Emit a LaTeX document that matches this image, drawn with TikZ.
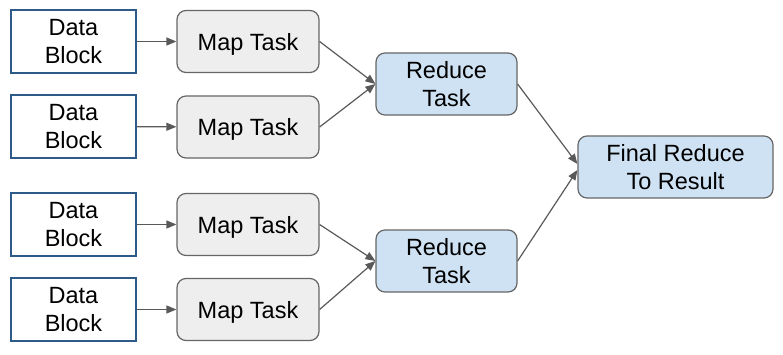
\documentclass[tikz,border=0pt]{standalone}
\usepackage{fontspec}
\setmainfont{Liberation Sans}
\usetikzlibrary{arrows.meta}
\definecolor{dbborder}{HTML}{2E5A88}
\definecolor{grayborder}{HTML}{666666}
\definecolor{mapfill}{HTML}{EEEEEE}
\definecolor{redfill}{HTML}{CFE2F3}
\definecolor{arrowc}{HTML}{595959}
\begin{document}
\begin{tikzpicture}[x=1pt,y=1pt,
  every node/.style={font=\fontsize{23.5}{27.5}\selectfont, align=center, inner sep=0pt},
  datablock/.style={draw=dbborder, fill=white, line width=1.3pt, minimum width=125pt, minimum height=63pt},
  maptask/.style={draw=grayborder, fill=mapfill, line width=1.2pt, rounded corners=9pt, minimum width=142pt, minimum height=62pt, text depth=0pt},
  redtask/.style={draw=grayborder, fill=redfill, line width=1.2pt, rounded corners=9pt, minimum width=141pt, minimum height=62pt},
  conn/.style={draw=arrowc, line width=1.2pt, -{Triangle[length=10pt,width=8pt]}}
]
\useasboundingbox (0,0) rectangle (783,354);
\node[datablock] (d1) at (73.5,312.5) {Data\\Block};
\node[datablock] (d2) at (73.5,227.5) {Data\\Block};
\node[datablock] (d3) at (73.5,129.5) {Data\\Block};
\node[datablock] (d4) at (73.5,44.5) {Data\\Block};
\node[maptask] (m1) at (248,312.5) {Map Task};
\node[maptask] (m2) at (248,227) {Map Task};
\node[maptask] (m3) at (248,129.5) {Map Task};
\node[maptask] (m4) at (248,44.5) {Map Task};
\node[redtask] (r1) at (446.5,270) {Reduce\\Task};
\node[redtask] (r2) at (446.5,93) {Reduce\\Task};
\node[redtask, minimum width=195pt] (f) at (675.5,187) {Final Reduce\\To Result};
\draw[conn] (d1) -- (m1);
\draw[conn] (d2) -- (m2);
\draw[conn] (d3) -- (m3);
\draw[conn] (d4) -- (m4);
\draw[conn] (m1.east) -- (r1.west);
\draw[conn] (m2.east) -- (r1.west);
\draw[conn] (m3.east) -- (r2.west);
\draw[conn] (m4.east) -- (r2.west);
\draw[conn] (r1.east) -- ([yshift=3pt]f.west);
\draw[conn] (r2.east) -- ([yshift=-3pt]f.west);
\end{tikzpicture}
\end{document}
